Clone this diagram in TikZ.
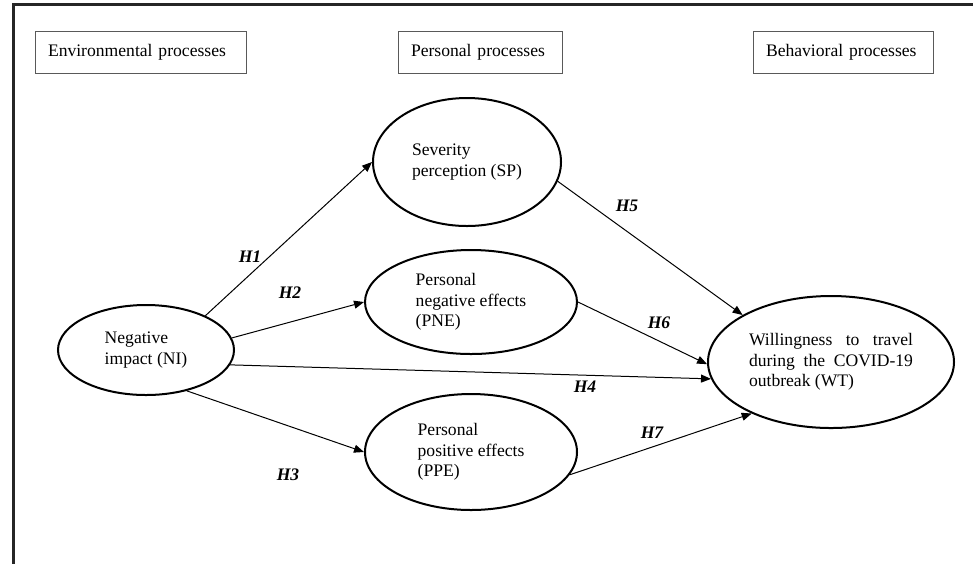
\documentclass[tikz,border=0pt]{standalone}
\usepackage{fontspec}
\setmainfont{Liberation Serif}
\usetikzlibrary{shapes.geometric,arrows.meta}
\tolerance=10000
\hbadness=10000
\begin{document}
\begin{tikzpicture}[x=0.5pt,y=-0.5pt,
  font=\fontsize{8.8}{10.25}\selectfont,
  procbox/.style={draw=black!65,line width=0.5pt,minimum height=21pt,inner xsep=6.5pt,text width=#1,align=left},
  construct/.style={ellipse,draw,line width=1pt,inner sep=0pt,align=left},
  hyp/.style={draw,line width=0.5pt,-{Triangle[length=5pt,width=4pt]}},
  hlabel/.style={font=\fontsize{8.8}{10.25}\selectfont\bfseries\itshape}]
\useasboundingbox (0,0) rectangle (973,564);
\draw[line width=1.5pt,black!85] (973,4)--(13,4)--(13,564);
\node[procbox=92.5pt] (env) at (140.5,52) {Environmental processes};
\node[procbox=69pt] (pers) at (480,52) {Personal processes};
\node[procbox=77pt] (behav) at (843,52) {Behavioral processes};
\node[construct,minimum width=88pt,minimum height=45pt] (NI) at (146,350) {Negative\\impact (NI)};
\node[construct,minimum width=94pt,minimum height=64pt] (SP) at (467,162) {Severity\\perception (SP)};
\node[construct,minimum width=106pt,minimum height=52pt] (PNE) at (471,302) {Personal\\negative effects\\(PNE)};
\node[construct,minimum width=106pt,minimum height=58pt] (PPE) at (471,452) {Personal\\positive effects\\(PPE)};
\node[construct,minimum width=123pt,minimum height=66pt,text width=82pt,align=justify] (WT) at (831,362) {Willingness to travel during the COVID-19 outbreak (WT)};
\draw[hyp] (NI.30)--(SP.west);
\draw[hyp] (NI.8)--(PNE.west);
\draw[hyp] (NI.-45)--(PPE.west);
\draw[hyp] (NI.-10)--(WT.188);
\draw[hyp] (SP.-12)--(WT.152);
\draw[hyp] (PNE.east)--(WT.181);
\draw[hyp] (PPE.-13)--(WT.213);
\node[hlabel] (h1) at (250,257) {H1};
\node[hlabel] (h2) at (290,293) {H2};
\node[hlabel] (h3) at (288,475) {H3};
\node[hlabel] (h4) at (585,387) {H4};
\node[hlabel] (h5) at (627,206) {H5};
\node[hlabel] (h6) at (659,323) {H6};
\node[hlabel] (h7) at (652,433) {H7};
\end{tikzpicture}
\end{document}
